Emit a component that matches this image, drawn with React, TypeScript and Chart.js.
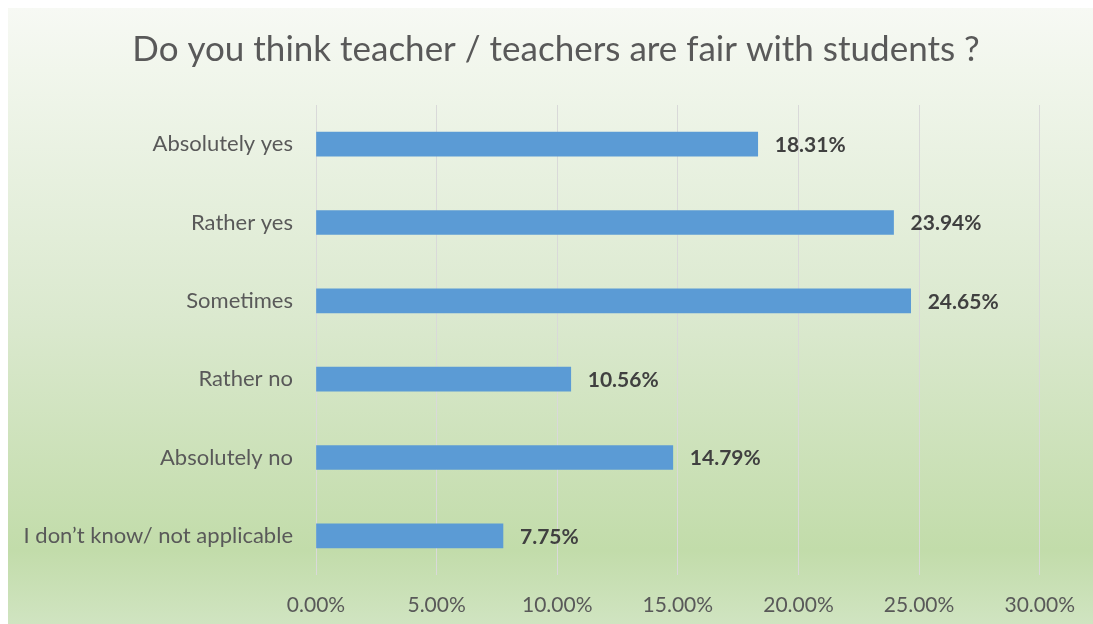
import React, { useEffect, useRef } from "react";
import { Chart, registerables } from "chart.js";

Chart.register(...registerables);

const categories = [
  "Absolutely yes",
  "Rather yes",
  "Sometimes",
  "Rather no",
  "Absolutely no",
  "I don’t know/ not applicable",
];
const values = [18.31, 23.94, 24.65, 10.56, 14.79, 7.75];
const xTicks = [0, 5, 10, 15, 20, 25, 30];
const title = "Do you think teacher / teachers are fair with students ?";

const W = 1085;
const H = 616;

const bgPlugin = {
  id: "bgGradient",
  beforeDraw(chart: any) {
    const { ctx } = chart;
    const g = ctx.createLinearGradient(0, 0, 0, H);
    g.addColorStop(0, "#f7f9f4");
    g.addColorStop(0.1, "#f1f6ec");
    g.addColorStop(0.5, "#dbe9cf");
    g.addColorStop(0.88, "#c2dcaa");
    g.addColorStop(1, "#d0e4c1");
    ctx.save();
    ctx.fillStyle = g;
    ctx.fillRect(0, 0, chart.width, chart.height);
    ctx.restore();
  },
};

const titlePlugin = {
  id: "centeredTitle",
  afterDraw(chart: any) {
    const { ctx } = chart;
    ctx.save();
    ctx.font = "35px Lato";
    ctx.fillStyle = "#595959";
    ctx.textAlign = "center";
    ctx.textBaseline = "alphabetic";
    ctx.fillText(title, 548, 53);
    ctx.restore();
  },
};

const labelPlugin = {
  id: "barLabels",
  afterDatasetsDraw(chart: any) {
    const { ctx } = chart;
    const meta = chart.getDatasetMeta(0);
    ctx.save();
    ctx.font = "bold 21px Lato";
    ctx.fillStyle = "#404040";
    ctx.textAlign = "left";
    ctx.textBaseline = "middle";
    meta.data.forEach((bar: any, i: number) => {
      ctx.fillText(values[i].toFixed(2) + "%", bar.x + 17, bar.y + 1);
    });
    ctx.restore();
  },
};

export default function App() {
  const ref = useRef<HTMLCanvasElement | null>(null);
  useEffect(() => {
    if (!ref.current) return;
    const chart = new Chart(ref.current, {
      type: "bar",
      data: {
        labels: categories,
        datasets: [
          {
            data: values,
            backgroundColor: "#5b9bd5",
            barThickness: 24,
          },
        ],
      },
      options: {
        indexAxis: "y",
        responsive: false,
        animation: false,
        layout: { padding: { left: 0, right: 45, top: 97, bottom: 0 } },
        plugins: {
          legend: { display: false },
          tooltip: { enabled: false },
          title: { display: false },
        },
        scales: {
          x: {
            min: 0,
            max: 30,
            afterBuildTicks: (scale: any) => {
              scale.ticks = xTicks.map((v) => ({ value: v }));
            },
            afterFit: (scale: any) => {
              scale.height = 49;
            },
            ticks: {
              color: "#595959",
              font: { family: "Lato", size: 21 },
              padding: 18,
              maxRotation: 0,
              callback: (v: any) => Number(v).toFixed(2) + "%",
            },
            grid: { color: "#d9d9d9", drawTicks: false, lineWidth: 1 },
            border: { display: false },
          },
          y: {
            afterFit: (scale: any) => {
              scale.width = 308;
            },
            ticks: {
              color: "#595959",
              font: { family: "Lato", size: 22 },
              padding: 23,
            },
            grid: { display: false, drawTicks: false },
            border: { display: false },
          },
        },
      },
      plugins: [bgPlugin, labelPlugin, titlePlugin],
    });
    return () => chart.destroy();
  }, []);
  return (
    <div style={{ position: "fixed", left: 8, top: 8, width: W, height: H }}>
      <canvas
        ref={ref}
        width={W}
        height={H}
        style={{ display: "block", width: W, height: H }}
      />
    </div>
  );
}
